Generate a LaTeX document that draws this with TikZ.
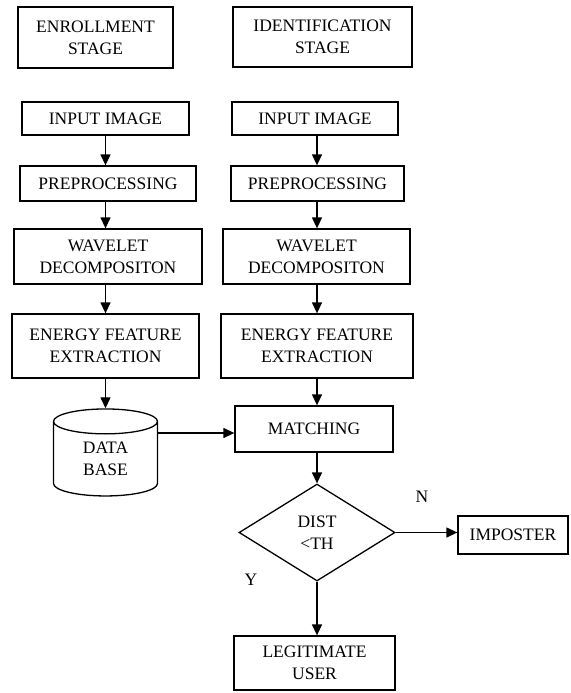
\documentclass[tikz,border=0pt]{standalone}
\usepackage{fontspec}
\setmainfont{Liberation Serif}
\usetikzlibrary{arrows.meta,shapes.geometric}

\begin{document}
\begin{tikzpicture}[x=1pt, y=-1pt,
  box/.style={draw, line width=1.3pt, align=center, inner sep=0pt,
              font=\fontsize{17.5}{22}\selectfont},
  arr/.style={-{Triangle[length=11pt, width=10pt]}, line width=1.3pt},
  lbl/.style={font=\fontsize{17.5}{22}\selectfont}
]
  \useasboundingbox (0,0) rectangle (570,693);

  % stage headings
  \node[box, minimum width=155pt, minimum height=61pt] (enrol) at (95.5,37.5) {ENROLLMENT\\STAGE};
  \node[box, minimum width=179pt, minimum height=60pt] (ident) at (322.5,37) {IDENTIFICATION\\STAGE};

  % enrollment column
  \node[box, minimum width=167pt, minimum height=33pt] (in1) at (105.5,118.5) {INPUT IMAGE};
  \node[box, minimum width=176pt, minimum height=35pt] (pre1) at (108,183.5) {PREPROCESSING};
  \node[box, minimum width=188pt, minimum height=55pt] (wav1) at (108,256.5) {WAVELET\\DECOMPOSITON};
  \node[box, minimum width=187pt, minimum height=64pt] (feat1) at (105.5,346) {ENERGY FEATURE\\EXTRACTION};
  \node[box, cylinder, shape border rotate=90, aspect=0.55,
        minimum width=104pt, minimum height=87pt] (db) at (105.5,459) {DATA\\BASE};

  % identification column
  \node[box, minimum width=166pt, minimum height=33pt] (in2) at (315,118.5) {INPUT IMAGE};
  \node[box, minimum width=173pt, minimum height=35pt] (pre2) at (317.5,183.5) {PREPROCESSING};
  \node[box, minimum width=187pt, minimum height=55pt] (wav2) at (316.5,256.5) {WAVELET\\DECOMPOSITON};
  \node[box, minimum width=192pt, minimum height=64pt] (feat2) at (317,346) {ENERGY FEATURE\\EXTRACTION};
  \node[box, minimum width=158pt, minimum height=46pt] (match) at (314,429) {MATCHING};
  \node[box, diamond, aspect=1.6, minimum width=156pt, minimum height=97pt] (dist) at (317,532.5) {DIST\\\textless TH};
  \node[box, minimum width=110pt, minimum height=38pt] (imp) at (513,535) {IMPOSTER};
  \node[box, minimum width=161pt, minimum height=54pt] (legit) at (314.5,663) {LEGITIMATE\\USER};

  \node[lbl] (no) at (422,497) {N};
  \node[lbl] (yes) at (251,580) {Y};

  \draw[arr] (in1.south) -- (in1.south |- pre1.north);
  \draw[arr] (in1.south |- pre1.south) -- (in1.south |- wav1.north);
  \draw[arr] (in1.south |- wav1.south) -- (in1.south |- feat1.north);
  \draw[arr] (in1.south |- feat1.south) -- (in1.south |- db.north);

  \draw[arr] (dist.north |- in2.south) -- (dist.north |- pre2.north);
  \draw[arr] (dist.north |- pre2.south) -- (dist.north |- wav2.north);
  \draw[arr] (dist.north |- wav2.south) -- (dist.north |- feat2.north);
  \draw[arr] (dist.north |- feat2.south) -- (dist.north |- match.north);
  \draw[arr] (dist.north |- match.south) -- (dist.north);

  \draw[arr] ([yshift=-4pt]match.west -| db.east) -- ([yshift=-4pt]match.west);
  \draw[arr] (dist.east) -- (dist.east -| imp.west);
  \draw[arr] (dist.south) -- (dist.south |- legit.north);
\end{tikzpicture}
\end{document}
